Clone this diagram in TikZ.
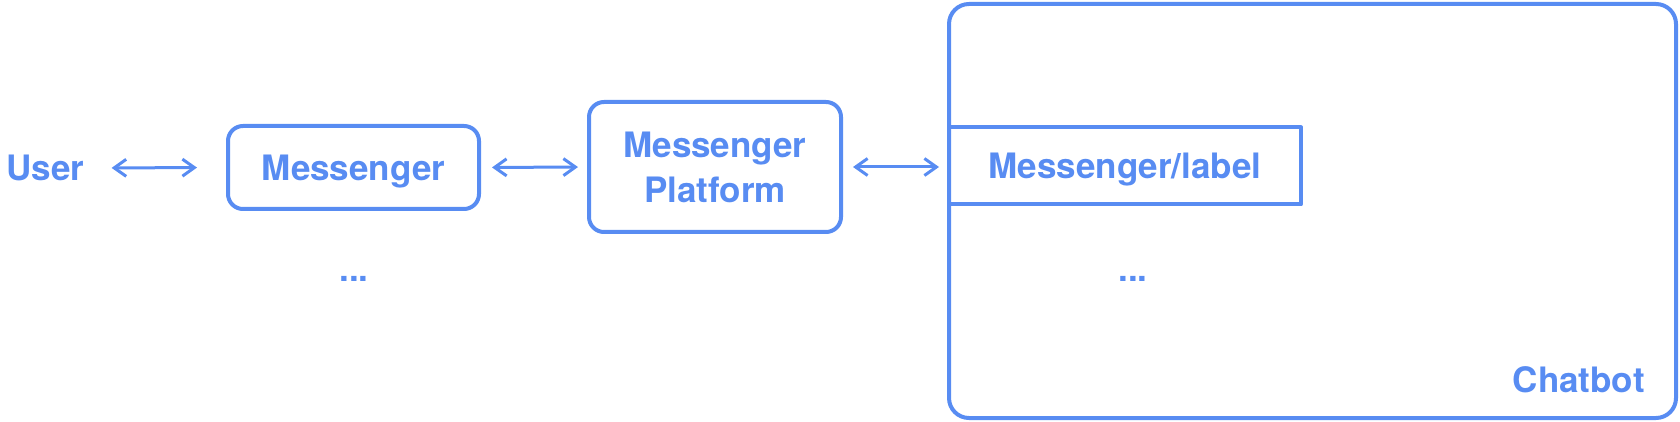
\documentclass[tikz,border=0pt]{standalone}
\usepackage{fontspec}
\setmainfont{TeX Gyre Heros}
\usetikzlibrary{arrows.meta}
\definecolor{botblue}{RGB}{88,140,242}

\begin{document}
\begin{tikzpicture}[x=0.5pt,y=-0.5pt,line cap=round,line join=round,
	every node/.style={text=botblue,font=\fontsize{17.5}{22.5}\selectfont\bfseries,inner sep=0pt,text depth=0pt},
	rbox/.style={draw=botblue,line width=2pt,rounded corners=7.5pt,align=center},
	sbox/.style={draw=botblue,line width=2pt},
	biarrow/.style={draw=botblue,line width=1.5pt,{Straight Barb[length=6pt,width=8.5pt]}-{Straight Barb[length=6pt,width=8.5pt]}}]
	\useasboundingbox (0,0) rectangle (1680,422);
	% outer chatbot frame
	\node[rbox,rounded corners=10pt,minimum width=363.5pt,minimum height=207pt] (chatbot) at (1312.5,211) {};
	\node[sbox,minimum width=176pt,minimum height=38.5pt] (label) at (1125,166) {Messenger/label};
	\node[anchor=east] (chatbotname) at (1645,380) {Chatbot};
	\node (botdots) at (1133,279) {...};
	% left side
	\node[anchor=west] (user) at (6,168) {User};
	\node[rbox,minimum width=125.5pt,minimum height=41.5pt] (messenger) at (353.5,167.5) {Messenger};
	\node (msgdots) at (354,279) {...};
	\node[rbox,minimum width=126pt,minimum height=65pt] (platform) at (715,167) {Messenger\\Platform};
	% connectors
	\draw[biarrow,shorten <=13.5pt,shorten >=14.5pt] (user.east) -- (messenger.west);
	\draw[biarrow,shorten <=5.5pt,shorten >=4.5pt] (messenger.east) -- (platform.west);
	\draw[biarrow,shorten <=5pt,shorten >=4pt] (platform.east) -- (chatbot.west |- platform.east);
\end{tikzpicture}
\end{document}
